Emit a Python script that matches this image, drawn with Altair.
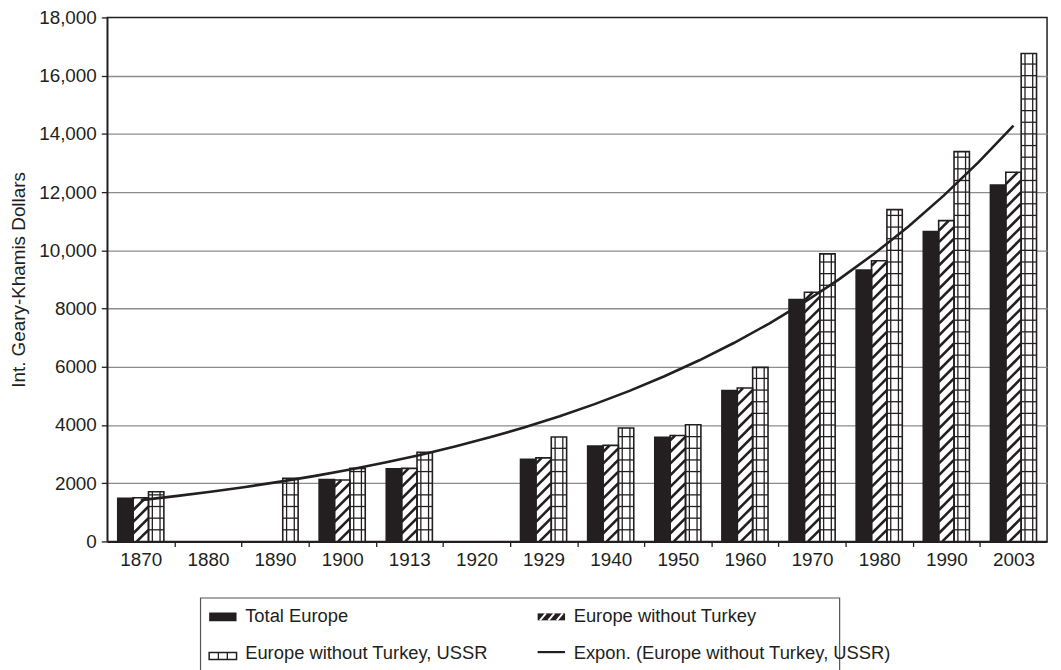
import altair as alt
import pandas as pd

# ---------------- data ----------------
years = ["1870", "1880", "1890", "1900", "1913", "1920", "1929",
         "1940", "1950", "1960", "1970", "1980", "1990", "2003"]
total_europe = [1480, None, None, 2130, 2500, None, 2820,
                3280, 3580, 5180, 8310, 9320, 10650, 12240]
europe_wo_turkey = [1500, None, None, 2110, 2510, None, 2870,
                    3300, 3640, 5270, 8560, 9640, 11020, 12680]
europe_wo_turkey_ussr = [1710, None, 2170, 2510, 3060, None, 3590,
                         3900, 4010, 5980, 9880, 11400, 13390, 16760]
series_names = ["Total Europe", "Europe without Turkey", "Europe without Turkey, USSR"]
trend_label = "Expon. (Europe without Turkey, USSR)"
y_title = "Int. Geary-Khamis Dollars"

rows = []
for s, vals in zip(series_names, [total_europe, europe_wo_turkey, europe_wo_turkey_ussr]):
    for i, (yr, v) in enumerate(zip(years, vals)):
        if v is not None:
            rows.append({"idx": i, "year": yr, "series": s, "v": v})
df = pd.DataFrame(rows)

# ---------------- styling constants ----------------
FONT = "Liberation Sans"
INK = "#231f20"
BW = 0.229      # bar width in category units
RISE = 528      # hatch rise across a bar (value units, ~45 deg)
STEP = 400      # pattern spacing (value units)

names_js = "[" + ",".join("'" + s + "'" for s in series_names) + "]"
years_js = "[" + ",".join("'" + y + "'" for y in years) + "]"

xs = alt.Scale(domain=[-0.5, len(years) - 0.5], nice=False, zero=False)
ys = alt.Scale(domain=[0, 18000], nice=False)

x_vals = [i * 0.5 for i in range(0, 2 * len(years) - 1)]
x_axis = alt.Axis(
    values=x_vals,
    labelExpr=f"datum.value % 1 === 0 ? {years_js}[datum.value] : ''",
    tickOpacity={"condition": {"test": "datum.value % 1 !== 0", "value": 1}, "value": 0},
    tickSize=5, tickColor=INK, tickWidth=1.3,
    labelPadding=4, labelFontSize=19, labelColor=INK, labelFont=FONT,
    labelOverlap=False, labelFlush=False,
    domainColor=INK, domainWidth=2, grid=False, title=None,
)
y_axis = alt.Axis(
    values=list(range(0, 18001, 2000)),
    labelExpr="datum.value >= 10000 ? format(datum.value, ',') : format(datum.value, 'd')",
    tickSize=6, tickColor=INK, tickWidth=1.3,
    labelPadding=5, labelFontSize=19, labelColor=INK, labelFont=FONT,
    domainColor=INK, domainWidth=1.5,
    grid=True, gridColor="#8c8c8c", gridWidth=1.3,
    gridOpacity={"condition": {"test": "datum.value >= 18000", "value": 0}, "value": 1},
    title=y_title, titleFontSize=19, titleFontWeight="normal", titleColor=INK,
    titleFont=FONT, titlePadding=10,
)

base = (
    alt.Chart(df)
    .transform_calculate(off=f"indexof({names_js}, datum.series) - 1")
    .transform_calculate(
        xl=f"datum.idx + (datum.off - 0.5) * {BW}",
        xr=f"datum.idx + (datum.off + 0.5) * {BW}",
    )
)

bars_fill = base.mark_rect(strokeWidth=0).encode(
    x=alt.X("xl:Q", scale=xs, axis=x_axis),
    x2="xr:Q",
    y=alt.Y("v:Q", scale=ys, axis=y_axis),
    y2=alt.datum(0),
    fill=alt.Fill("series:N", scale=alt.Scale(domain=series_names, range=[INK, "white", "white"]), legend=None),
)

hatch = (
    base.transform_filter(f"datum.series == '{series_names[1]}'")
    .transform_calculate(k=f"sequence(0, ceil((datum.v + {RISE}) / {STEP}) + 1)")
    .transform_flatten(["k"])
    .transform_calculate(y0=f"datum.k * {STEP} - {RISE}")
    .transform_calculate(ya="max(datum.y0, 0)", yb=f"min(datum.y0 + {RISE}, datum.v)")
    .transform_filter("datum.ya < datum.yb")
    .transform_calculate(
        xa=f"datum.xl + (datum.ya - datum.y0) / {RISE} * (datum.xr - datum.xl)",
        xb=f"datum.xl + (datum.yb - datum.y0) / {RISE} * (datum.xr - datum.xl)",
    )
    .mark_rule(strokeWidth=2.6, color=INK)
    .encode(
        x=alt.X("xa:Q", scale=xs, axis=x_axis),
        x2="xb:Q",
        y=alt.Y("ya:Q", scale=ys, axis=y_axis),
        y2="yb:Q",
    )
)

grid_h = (
    base.transform_filter(f"datum.series == '{series_names[2]}'")
    .transform_calculate(k=f"sequence(1, ceil(datum.v / {STEP}))")
    .transform_flatten(["k"])
    .transform_calculate(yh=f"datum.k * {STEP}")
    .transform_filter("datum.yh < datum.v - 60")
    .mark_rule(strokeWidth=1.3, color=INK)
    .encode(
        x=alt.X("xl:Q", scale=xs, axis=x_axis),
        x2="xr:Q",
        y=alt.Y("yh:Q", scale=ys, axis=y_axis),
    )
)

grid_v = (
    base.transform_filter(f"datum.series == '{series_names[2]}'")
    .transform_calculate(f="[0.25, 0.75]")
    .transform_flatten(["f"])
    .transform_calculate(xv="datum.xl + datum.f * (datum.xr - datum.xl)")
    .mark_rule(strokeWidth=1.3, color=INK)
    .encode(
        x=alt.X("xv:Q", scale=xs, axis=x_axis),
        y=alt.Y("v:Q", scale=ys, axis=y_axis),
        y2=alt.datum(0),
    )
)

outline = base.mark_rect(fill="transparent", stroke=INK, strokeWidth=1.6).encode(
    x=alt.X("xl:Q", scale=xs, axis=x_axis),
    x2="xr:Q",
    y=alt.Y("v:Q", scale=ys, axis=y_axis),
    y2=alt.datum(0),
)

trend = (
    alt.Chart(df)
    .transform_filter(f"datum.series == '{series_names[2]}'")
    .transform_calculate(lv="log(datum.v)")
    .transform_regression("idx", "lv", method="poly", order=1, extent=[0, len(years) - 1])
    .transform_calculate(tv="exp(datum.lv)")
    .mark_line(color=INK, strokeWidth=2.6)
    .encode(
        x=alt.X("idx:Q", scale=xs, axis=x_axis),
        y=alt.Y("tv:Q", scale=ys, axis=y_axis),
    )
)

# ---------------- legend (drawn by hand, layout in pixels) ----------------
lg = alt.Chart(pd.DataFrame({"d": [0]}))
TXT = dict(align="left", baseline="middle", fontSize=18.5, font=FONT, color=INK)

leg_box = lg.mark_rect(fill="transparent", stroke="#555555", strokeWidth=1.2).encode(
    x=alt.value(94), x2=alt.value(738), y=alt.value(585), y2=alt.value(720))
sym_total = lg.mark_rect(fill=INK).encode(
    x=alt.value(102.7), x2=alt.value(130.3), y=alt.value(599.5), y2=alt.value(608.5))
sym_hatch = lg.mark_rect(fill=INK).encode(
    x=alt.value(433.7), x2=alt.value(461.3), y=alt.value(600.5), y2=alt.value(607.5))
hatch_marks = [
    lg.mark_rule(color="white", strokeWidth=2).encode(
        x=alt.value(x0), x2=alt.value(x0 + 6), y=alt.value(607.5), y2=alt.value(600.5))
    for x0 in (436, 444.5, 453)
]
sym_grid = lg.mark_rect(fill="white", stroke=INK, strokeWidth=1.5).encode(
    x=alt.value(102.7), x2=alt.value(130.3), y=alt.value(640), y2=alt.value(647))
grid_marks = [
    lg.mark_rule(color=INK, strokeWidth=1.3).encode(
        x=alt.value(xv), y=alt.value(640), y2=alt.value(647))
    for xv in (112, 121)
]
sym_line = lg.mark_rule(color=INK, strokeWidth=2.2).encode(
    x=alt.value(433.7), x2=alt.value(461.3), y=alt.value(639.5))
txt1 = lg.mark_text(**TXT).encode(x=alt.value(139), y=alt.value(603), text=alt.value(series_names[0]))
txt2 = lg.mark_text(**TXT).encode(x=alt.value(470), y=alt.value(603), text=alt.value(series_names[1]))
txt3 = lg.mark_text(**TXT).encode(x=alt.value(139), y=alt.value(640.5), text=alt.value(series_names[2]))
txt4 = lg.mark_text(**TXT).encode(x=alt.value(470), y=alt.value(640.5), text=alt.value(trend_label))

chart = (
    alt.layer(
        bars_fill, hatch, grid_h, grid_v, outline, trend,
        leg_box, sym_total, sym_hatch, *hatch_marks, sym_grid, *grid_marks, sym_line,
        txt1, txt2, txt3, txt4,
    )
    .properties(
        width=947, height=528,
        padding={"left": 100, "top": 7, "right": 6, "bottom": 127},
        autosize=alt.AutoSizeParams(type="none"),
    )
    .configure(font=FONT)
    .configure_view(stroke=INK, strokeWidth=1.5)
)

chart.save("out.html", embed_options={"renderer": "svg", "actions": False})
